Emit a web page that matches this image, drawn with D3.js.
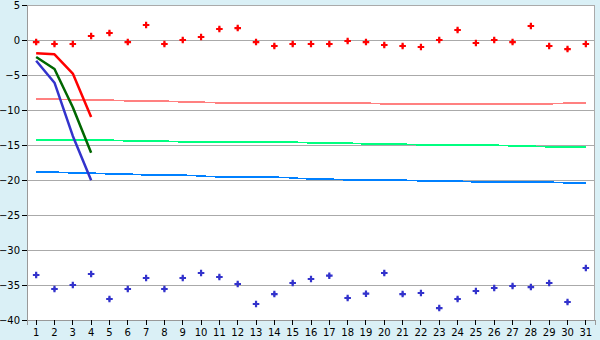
<!DOCTYPE html>
<html>
<head>
<meta charset="utf-8">
<script src="https://cdn.jsdelivr.net/npm/d3@7"></script>
<style>
    html, body { margin: 0; padding: 0; background: #daf0f6; }
    #chart text { font-family: "DejaVu Sans", Verdana, sans-serif; font-size: 10px; fill: #000; }
</style>
</head>
<body>
<div id="chart"></div>
<script>
var days = d3.range(1, 32);

// точки
var redPoints = [-0.29, -0.57, -0.57, 0.57, 1.0, -0.29, 2.14, -0.57, 0, 0.43,
    1.57, 1.71, -0.29, -0.86, -0.57, -0.57, -0.57, -0.14, -0.29, -0.71,
    -0.86, -1.0, 0, 1.43, -0.43, 0, -0.29, 2.0, -0.86, -1.29, -0.57];
var bluePoints = [-33.57, -35.57, -35.0, -33.43, -37.0, -35.57, -34.0, -35.57, -34.0, -33.29,
    -33.86, -34.86, -37.71, -36.29, -34.71, -34.14, -33.67, -36.86, -36.24, -33.29,
    -36.29, -36.14, -38.29, -37.0, -35.86, -35.43, -35.14, -35.29, -34.71, -37.43, -32.57];

// короткі лінії (перші 4 дні)
var redLine = [-1.9, -2.05, -4.8, -11.0];
var greenLine = [-2.43, -4.14, -9.6, -16.1];
var blueLine = [-2.96, -6.1, -13.7, -20.05];

// довгі рівні
var pinkLevel = [-8.43, -8.43, -8.57, -8.57, -8.57, -8.71, -8.71, -8.71, -8.86, -8.86,
    -9.0, -9.0, -9.0, -9.0, -9.0, -9.0, -9.0, -9.0, -9.0, -9.14,
    -9.14, -9.14, -9.14, -9.14, -9.14, -9.14, -9.14, -9.14, -9.14, -9.0, -9.0];
var greenLevel = [-14.29, -14.29, -14.29, -14.29, -14.29, -14.43, -14.43, -14.43, -14.57, -14.57,
    -14.57, -14.57, -14.57, -14.57, -14.57, -14.71, -14.71, -14.71, -14.86, -14.86,
    -14.86, -15.0, -15.0, -15.0, -15.0, -15.0, -15.14, -15.14, -15.29, -15.29, -15.29];
var blueLevel = [-18.86, -18.86, -19.0, -19.0, -19.14, -19.14, -19.29, -19.29, -19.29, -19.43,
    -19.57, -19.57, -19.57, -19.57, -19.71, -19.86, -19.86, -20.0, -20.0, -20.0,
    -20.0, -20.14, -20.14, -20.14, -20.29, -20.29, -20.29, -20.29, -20.29, -20.43, -20.43];

var yTicks = [5, 0, -5, -10, -15, -20, -25, -30, -35, -40];

var width = 600, height = 340;
var margin = {top: 5, right: 5, bottom: 20, left: 27};

var svg = d3.select("#chart")
    .append("svg")
    .attr("width", width)
    .attr("height", height);

var x = d3.scaleBand()
    .domain(days)
    .range([margin.left, width - margin.right]);

var y = d3.scaleLinear()
    .domain([-40, 5])
    .range([height - margin.bottom, margin.top]);

function cx(i) { return x(days[i]) + x.bandwidth() / 2; }

svg.append("rect")
    .attr("x", margin.left)
    .attr("y", margin.top)
    .attr("width", width - margin.left - margin.right)
    .attr("height", height - margin.top - margin.bottom)
    .style("fill", "#fff");

// сітка
svg.append("g")
    .selectAll("line")
    .data(yTicks)
    .enter()
    .append("line")
    .attr("x1", margin.left)
    .attr("x2", width - margin.right)
    .attr("y1", function(d) { return Math.round(y(d)) + 0.5; })
    .attr("y2", function(d) { return Math.round(y(d)) + 0.5; })
    .style("stroke", "#aaa")
    .style("shape-rendering", "crispEdges");

// рамка справа
svg.append("line")
    .attr("x1", width - margin.right - 0.5)
    .attr("x2", width - margin.right - 0.5)
    .attr("y1", margin.top)
    .attr("y2", height - margin.bottom)
    .style("stroke", "#aaa")
    .style("shape-rendering", "crispEdges");

// осі
var yAxis = d3.axisLeft(y)
    .tickValues(yTicks)
    .tickSize(5)
    .tickPadding(2)
    .tickFormat(d3.format("d"));

var gy = svg.append("g")
    .attr("transform", "translate(" + margin.left + ",0)")
    .call(yAxis);

var xAxis = d3.axisBottom(x)
    .tickSize(5)
    .tickPadding(4);

var gx = svg.append("g")
    .attr("transform", "translate(0," + (height - margin.bottom) + ")")
    .call(xAxis);

[gx, gy].forEach(function(g) {
    g.select(".domain").style("stroke", "#999").style("shape-rendering", "crispEdges");
    g.selectAll(".tick line").style("stroke", "#000").style("shape-rendering", "crispEdges");
    g.selectAll("text").attr("font-family", null).attr("font-size", null);
});
gy.select(".domain").attr("d", "M0.5," + margin.top + "V" + (height - margin.bottom));

// лінії
var line = d3.line()
    .x(function(d, i) { return cx(i); })
    .y(function(d) { return y(d); });

var levels = [
    {values: pinkLevel, color: "#ff8080", w: 1.5},
    {values: greenLevel, color: "#00ff80", w: 1.5},
    {values: blueLevel, color: "#0080ff", w: 1.5}
];

svg.append("g")
    .selectAll("path")
    .data(levels)
    .enter()
    .append("path")
    .attr("d", function(d) { return line(d.values); })
    .style("fill", "none")
    .style("stroke", function(d) { return d.color; })
    .style("stroke-width", function(d) { return d.w; })
    .style("shape-rendering", "crispEdges");

var drops = [
    {values: redLine, color: "#ff0000"},
    {values: greenLine, color: "#006600"},
    {values: blueLine, color: "#3333cc"}
];

svg.append("g")
    .selectAll("path")
    .data(drops)
    .enter()
    .append("path")
    .attr("d", function(d) { return line(d.values); })
    .style("fill", "none")
    .style("stroke", function(d) { return d.color; })
    .style("stroke-width", 2.5)
    .style("stroke-linejoin", "round");

// маркери: хрестик + ромбик, щоб були "товстенькі"
var cross = d3.symbol().type(d3.symbolCross).size(24);
var diamond = d3.symbol().type(d3.symbolDiamond).size(10);

function addMarkers(data, color) {
    var g = svg.append("g")
        .selectAll("g")
        .data(data)
        .enter()
        .append("g")
        .attr("transform", function(d, i) { return "translate(" + cx(i) + "," + y(d) + ")"; })
        .style("fill", color);
    g.append("path").attr("d", cross);
    g.append("path").attr("d", diamond);
}

addMarkers(redPoints, "#ff0000");
addMarkers(bluePoints, "#3333cc");
</script>
</body>
</html>
